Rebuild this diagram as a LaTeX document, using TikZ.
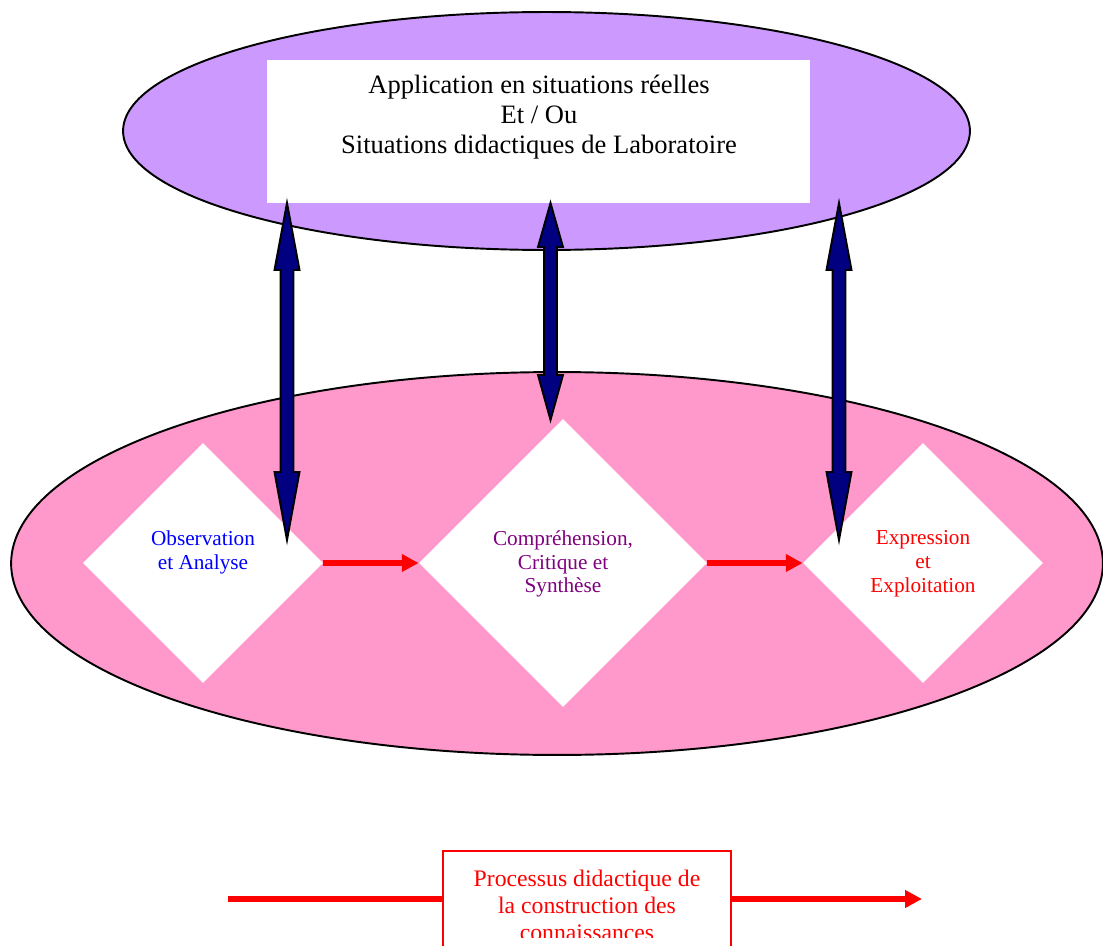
\documentclass[tikz,border=0pt]{standalone}
\usepackage{fontspec}
\setmainfont{Liberation Serif}
\usetikzlibrary{shapes.geometric,calc,arrows.meta}

\definecolor{lilac}{HTML}{CC99FF}
\definecolor{rose}{HTML}{FF99CC}
\definecolor{navyblue}{HTML}{000080}
\definecolor{plum}{HTML}{800080}

\tikzset{
  zone/.style={ellipse, draw=black, line width=1.1pt, inner sep=0pt},
  stage/.style={diamond, fill=white, inner sep=0pt, aspect=1},
  stagetext/.style={align=center, font=\fontsize{12.1}{13.6}\selectfont},
  blockarrow/.style={fill=navyblue, draw=black, line width=1.1pt, line join=miter},
  flow/.style={draw=red, line width=3.4pt, -{Triangle[length=9.6pt,width=9.6pt]}},
  flowline/.style={draw=red, line width=3.4pt},
}

% vertical two-headed block arrow: #1 upper tip, #2 lower tip,
% #3 upper head length, #4 lower head length
\newcommand\twowayarrow[4]{%
  \filldraw[blockarrow] (#1) -- ($(#1)+(12.5,#3)$) -- ($(#1)+(6.5,#3)$)
    -- ($(#2)+(6.5,-#4)$) -- ($(#2)+(12.5,-#4)$) -- (#2)
    -- ($(#2)+(-12.5,-#4)$) -- ($(#2)+(-6.5,-#4)$)
    -- ($(#1)+(-6.5,#3)$) -- ($(#1)+(-12.5,#3)$) -- cycle;}

\begin{document}
\begin{tikzpicture}[x=0.02cm, y=-0.02cm]
\useasboundingbox (0,0) rectangle (1103,946);
\clip (0,0) rectangle (1103,946);

% upper zone: real and laboratory situations
\node[zone, fill=lilac, minimum width=16.94cm, minimum height=4.76cm] (top) at (546.5,131) {};
\node[fill=white, inner sep=0pt, minimum width=10.86cm, minimum height=2.86cm] (situ) at (538.5,131.5) {};
\node[align=center, font=\fontsize{15.1}{17}\selectfont] (situtxt) at (539,117)
  {Application en situations réelles\\Et / Ou\\Situations didactiques de Laboratoire};

% lower zone: the three stages
\node[zone, fill=rose, minimum width=21.84cm, minimum height=7.66cm] (low) at (557,563.5) {};
\node[stage, minimum width=4.8cm, minimum height=4.8cm] (obs) at (203,563) {};
\node[stage, minimum width=5.76cm, minimum height=5.76cm] (comp) at (563,563) {};
\node[stage, minimum width=4.8cm, minimum height=4.8cm] (expr) at (923,563) {};

\node[stagetext, text=blue] (obstxt) at (203,552) {Observation\\et Analyse};
\node[stagetext, text=plum] (comptxt) at (563,564) {Compréhension,\\Critique et\\Synthèse};
\node[stagetext, text=red] (exprtxt) at (923,564) {Expression\\et\\Exploitation};

\draw[flow] (obs.east) -- (comp.west);
\draw[flow] (comp.east) -- (expr.west);

% links between the situations and the stages
\coordinate (a1) at (287,203);  \coordinate (b1) at (287,540);
\coordinate (a2) at (550.5,203); \coordinate (b2) at (550.5,420);
\coordinate (a3) at (839,203);  \coordinate (b3) at (839,540);
\twowayarrow{a1}{b1}{67}{68}
\twowayarrow{a2}{b2}{44}{45}
\twowayarrow{a3}{b3}{67}{68}

% process legend
\coordinate (pstart) at (228,899);
\coordinate (pend) at (922,899);
\node[draw=red, line width=1.1pt, fill=white, inner sep=0pt,
      minimum width=5.76cm, minimum height=1.92cm] (proc) at (587,899) {};
\draw[flowline] (pstart) -- (proc.west);
\draw[flow] (proc.east) -- (pend);
\begin{scope}
  \clip (445,853) rectangle (729,937);
  \node[align=center, text=red, font=\fontsize{13.5}{15.3}\selectfont] (proctxt) at (587,905)
    {Processus didactique de\\la construction des\\connaissances};
\end{scope}
\end{tikzpicture}
\end{document}
